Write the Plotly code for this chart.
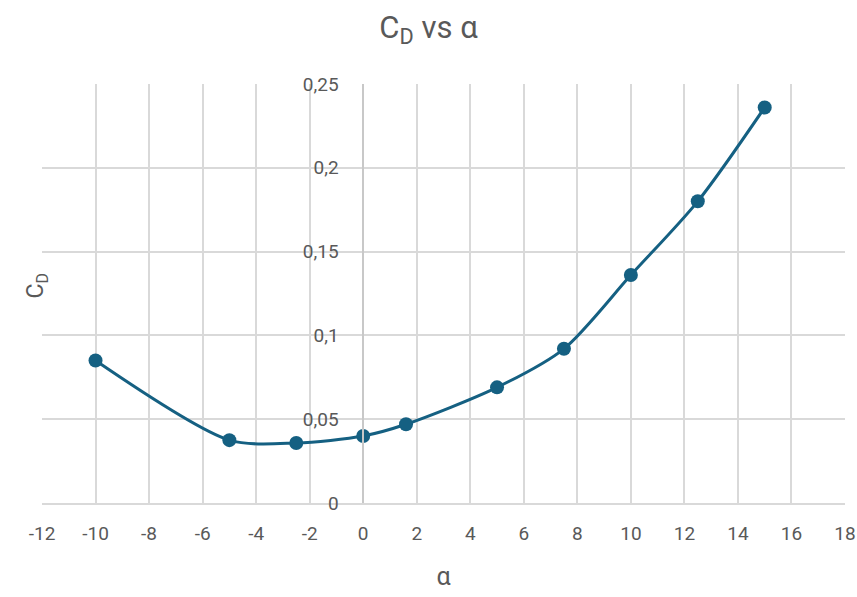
import plotly.graph_objects as go

# Drag coefficient measurements versus angle of attack
alpha = [-10, -5, -2.5, 0, 1.6, 5, 7.5, 10, 12.5, 15]
cd = [0.085, 0.0375, 0.0358, 0.040, 0.047, 0.069, 0.092, 0.136, 0.180, 0.236]

x_ticks = list(range(-12, 19, 2))
y_ticks = [0, 0.05, 0.1, 0.15, 0.2, 0.25]

line_color = "#156082"
text_color = "#595959"
grid_color = "#d9d9d9"
font_family = "Roboto, Liberation Sans, Arial, sans-serif"

fig = go.Figure(
    go.Scatter(
        x=alpha,
        y=cd,
        mode="lines+markers",
        line=dict(color=line_color, width=3, shape="spline", smoothing=0.8),
        marker=dict(color=line_color, size=14),
        showlegend=False,
        cliponaxis=False,
    )
)

fig.update_layout(
    width=857,
    height=597,
    margin=dict(l=42, r=12, t=84, b=94, autoexpand=False),
    paper_bgcolor="white",
    plot_bgcolor="white",
    separators=",.",
    font=dict(family=font_family, color=text_color, size=19),
    title=dict(
        text="C<sub>D</sub> vs α",
        x=0.5,
        xanchor="center",
        y=0.955,
        yanchor="middle",
        font=dict(size=31, color=text_color),
    ),
)

fig.update_xaxes(
    range=[-12, 18],
    tickvals=x_ticks,
    ticktext=[str(v) for v in x_ticks],
    showgrid=True,
    gridcolor=grid_color,
    gridwidth=1.5,
    zeroline=False,
    showline=True,
    mirror=False,
    linecolor=grid_color,
    linewidth=1.5,
    ticks="",
    automargin=False,
    ticklabelstandoff=12,
    tickfont=dict(size=19, color=text_color),
    title=dict(text="α", font=dict(size=25, color=text_color), standoff=24),
)

fig.update_yaxes(
    range=[0, 0.25],
    tickvals=y_ticks,
    ticktext=["0", "0,05", "0,1", "0,15", "0,2", "0,25"],
    showgrid=True,
    gridcolor=grid_color,
    gridwidth=1.5,
    zeroline=False,
    showline=True,
    linecolor="#c8c8c8",
    linewidth=1.5,
    anchor="free",
    position=0.4,
    ticks="",
    automargin=False,
    ticklabelstandoff=20,
    tickfont=dict(size=19, color=text_color),
    title=dict(text=""),
)

# Vertical axis title placed at the left edge of the chart
fig.add_annotation(
    text="C<sub>D</sub>",
    xref="paper",
    yref="paper",
    x=-0.027,
    y=0.52,
    showarrow=False,
    textangle=-90,
    font=dict(size=23, color=text_color),
)

fig.write_html("out.html")
